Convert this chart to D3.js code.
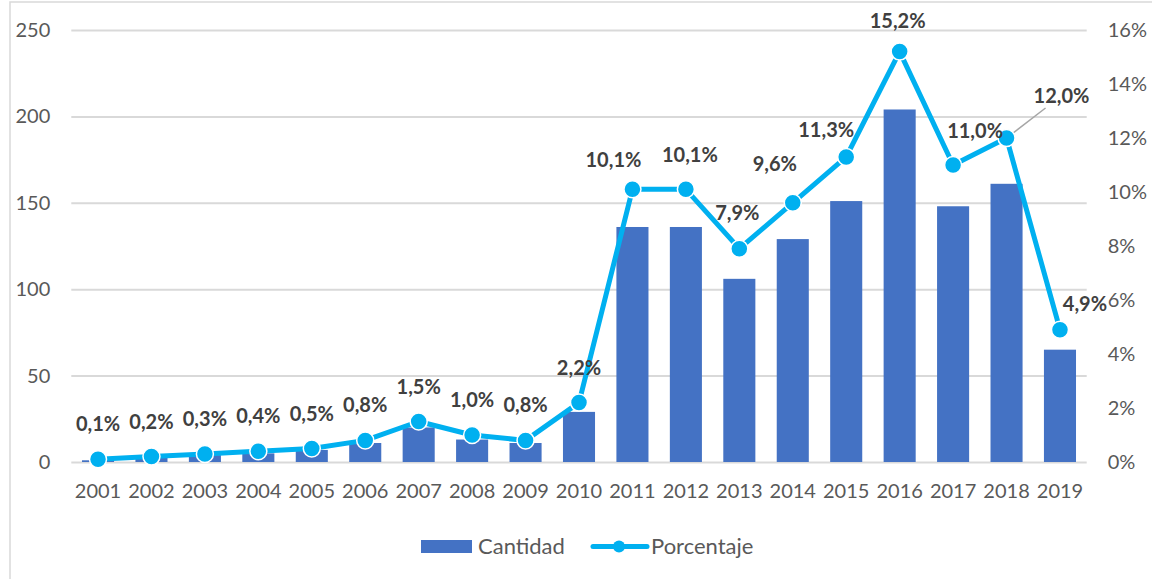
<!DOCTYPE html>
<html>
<head>
<meta charset="utf-8">
<script src="https://cdn.jsdelivr.net/npm/d3@7"></script>
<style>
  body { margin: 0; background: #fff; }
  svg { display: block; font-family: Lato, "Open Sans", sans-serif; }
</style>
</head>
<body>
<div id="chart"></div>
<script>
const years = ["2001","2002","2003","2004","2005","2006","2007","2008","2009","2010",
               "2011","2012","2013","2014","2015","2016","2017","2018","2019"];
const cantidad = [1, 3, 4, 5, 7, 11, 20, 13, 11, 29, 136, 136, 106, 129, 151, 204, 148, 161, 65];
const porcentaje = [0.1, 0.2, 0.3, 0.4, 0.5, 0.8, 1.5, 1.0, 0.8, 2.2, 10.1, 10.1, 7.9, 9.6, 11.3, 15.2, 11.0, 12.0, 4.9];
const leftTicks = [0, 50, 100, 150, 200, 250];
const rightTicks = [0, 2, 4, 6, 8, 10, 12, 14, 16];

// label nudges (dx, dy from the marker)
const nudge = {
  "2011": [-19, -29], "2012": [4, -34], "2013": [-2, -36], "2014": [-18, -39],
  "2015": [-20, -27], "2016": [-2, -31], "2017": [22, -34], "2018": [55, -42],
  "2019": [25, -26]
};

const W = 1152, H = 579;
const plot = {left: 71.3, right: 1086.7, top: 30, bottom: 462};

const svg = d3.select("#chart").append("svg")
  .attr("width", W).attr("height", H);

// chart frame
svg.append("rect")
  .attr("x", 10).attr("y", 2).attr("width", W + 20).attr("height", H + 20)
  .attr("fill", "none").attr("stroke", "#d9d9d9").attr("stroke-width", 1.5);

const x = d3.scaleBand().domain(years).range([plot.left, plot.right])
  .paddingInner(0.4).paddingOuter(0.2);
const y = d3.scaleLinear().domain([0, 250]).range([plot.bottom, plot.top]);
const y2 = d3.scaleLinear().domain([0, 16]).range([plot.bottom, plot.top]);

// left axis + gridlines
const yAxis = svg.append("g")
  .attr("transform", "translate(" + plot.left + ",0)")
  .call(d3.axisLeft(y).tickValues(leftTicks).tickSize(-(plot.right - plot.left)).tickPadding(21));
yAxis.select(".domain").remove();
yAxis.selectAll("line").attr("stroke", "#d9d9d9").attr("stroke-width", 2);
yAxis.selectAll("text").attr("fill", "#595959").style("font-size", "20px")
  .style("font-family", "Lato, sans-serif");

// right axis
const y2Axis = svg.append("g")
  .attr("transform", "translate(" + plot.right + ",0)")
  .call(d3.axisRight(y2).tickValues(rightTicks).tickSize(0).tickPadding(21)
    .tickFormat(d => d + "%"));
y2Axis.select(".domain").remove();
y2Axis.selectAll("text").attr("fill", "#595959").style("font-size", "20px")
  .style("font-family", "Lato, sans-serif");

// bottom axis labels
const xAxis = svg.append("g")
  .attr("transform", "translate(0," + plot.bottom + ")")
  .call(d3.axisBottom(x).tickSize(0).tickPadding(22));
xAxis.select(".domain").remove();
xAxis.selectAll("text").attr("fill", "#595959").style("font-size", "20px")
  .style("font-family", "Lato, sans-serif");

// bars
svg.append("g").selectAll("rect")
  .data(years)
  .enter().append("rect")
  .attr("x", d => x(d))
  .attr("y", (d, i) => y(cantidad[i]))
  .attr("width", x.bandwidth())
  .attr("height", (d, i) => plot.bottom - y(cantidad[i]))
  .attr("fill", "#4472c4");

const cx = d => x(d) + x.bandwidth() / 2;

// line
const line = d3.line()
  .x((d, i) => cx(years[i]))
  .y(d => y2(d));

svg.append("path")
  .datum(porcentaje)
  .attr("d", line)
  .attr("fill", "none")
  .attr("stroke", "#00b0f0")
  .attr("stroke-width", 5)
  .attr("stroke-linejoin", "round");

// leader line for 2018
const i18 = years.indexOf("2018");
svg.append("line")
  .attr("x1", cx("2018") + nudge["2018"][0] - 16)
  .attr("y1", y2(porcentaje[i18]) + nudge["2018"][1] + 12)
  .attr("x2", cx("2018"))
  .attr("y2", y2(porcentaje[i18]))
  .attr("stroke", "#a6a6a6").attr("stroke-width", 1.5);

svg.append("g").selectAll("circle")
  .data(porcentaje)
  .enter().append("circle")
  .attr("cx", (d, i) => cx(years[i]))
  .attr("cy", d => y2(d))
  .attr("r", 8.5)
  .attr("fill", "#00b0f0")
  .attr("stroke", "#fff")
  .attr("stroke-width", 1.5);

// data labels
svg.append("g").selectAll("text")
  .data(porcentaje)
  .enter().append("text")
  .attr("x", (d, i) => cx(years[i]) + (nudge[years[i]] ? nudge[years[i]][0] : 0))
  .attr("y", (d, i) => y2(d) + (nudge[years[i]] ? nudge[years[i]][1] : -35))
  .attr("dy", "0.35em")
  .attr("text-anchor", "middle")
  .attr("fill", "#404040")
  .style("font-size", "20px")
  .style("font-weight", "bold")
  .text(d => d.toFixed(1).replace(".", ",") + "%");

// legend
const lg = svg.append("g");
lg.append("rect").attr("x", 421).attr("y", 540).attr("width", 51).attr("height", 13)
  .attr("fill", "#4472c4");
lg.append("text").attr("x", 478).attr("y", 546.5).attr("dy", "0.35em")
  .attr("fill", "#595959").style("font-size", "22px").text("Cantidad");
lg.append("line").attr("x1", 593).attr("x2", 647).attr("y1", 546.5).attr("y2", 546.5)
  .attr("stroke", "#00b0f0").attr("stroke-width", 5).attr("stroke-linecap", "round");
lg.append("circle").attr("cx", 619).attr("cy", 546.5).attr("r", 6).attr("fill", "#00b0f0");
lg.append("text").attr("x", 651).attr("y", 546.5).attr("dy", "0.35em")
  .attr("fill", "#595959").style("font-size", "22px").text("Porcentaje");
</script>
</body>
</html>
